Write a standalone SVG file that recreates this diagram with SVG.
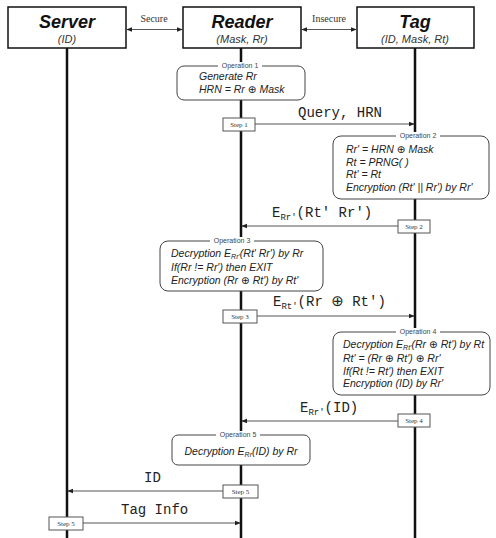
<svg xmlns="http://www.w3.org/2000/svg" width="496" height="538" viewBox="0 0 496 538">
<defs>
<marker id="ah" viewBox="0 0 8 8" refX="7" refY="4" markerWidth="6" markerHeight="6" orient="auto-start-reverse" markerUnits="userSpaceOnUse">
<path d="M0,1 L8,4 L0,7 Z" fill="#222"/>
</marker>
</defs>
<style>
.hdr{fill:#fff;stroke:#111;stroke-width:1.5}
.title{font-family:"Liberation Sans",Arial,sans-serif;font-weight:bold;font-style:italic;font-size:18px;text-anchor:middle;fill:#111}
.sub{font-family:"Liberation Sans",Arial,sans-serif;font-style:italic;font-size:11px;text-anchor:middle;fill:#333}
.life{stroke:#111;stroke-width:2.5}
.msg{stroke:#555;stroke-width:1;fill:none;marker-end:url(#ah)}
.bi{stroke:#555;stroke-width:1;fill:none;marker-end:url(#ah);marker-start:url(#ah)}
.chan{font-family:"Liberation Serif","Times New Roman",serif;font-size:10px;text-anchor:middle;fill:#333}
.op{fill:#fff;stroke:#444;stroke-width:1}
.opl{font-family:"Liberation Sans",Arial,sans-serif;font-size:7px;text-anchor:middle;fill:#444}
.opt{font-family:"Liberation Sans",Arial,sans-serif;font-style:italic;font-size:10.5px;fill:#222}
.x{font-family:"DejaVu Sans",sans-serif;font-style:normal}
.step{fill:#fff;stroke:#555;stroke-width:1}
.stl{font-family:"Liberation Serif","Times New Roman",serif;font-size:7px;text-anchor:middle;fill:#333}
.ml{font-family:"Liberation Mono","Courier New",monospace;font-size:14px;fill:#222}
</style>

<g id="lifelines">
<line class="life" x1="67" y1="48" x2="67" y2="538"/>
<line class="life" x1="241" y1="48" x2="241" y2="538"/>
<line class="life" x1="415" y1="48" x2="415" y2="538"/>
</g>

<g id="connectors">
<line class="bi" x1="127" y1="29.5" x2="182" y2="29.5"/>
<text class="chan" x="154" y="22">Secure</text>
<line class="bi" x1="302" y1="29.5" x2="356" y2="29.5"/>
<text class="chan" x="329" y="22">Insecure</text>

<line class="msg" x1="255" y1="124" x2="414" y2="124"/>
<text class="ml" x="298" y="117">Query, HRN</text>

<line class="msg" x1="398" y1="226" x2="242" y2="226"/>
<text class="ml" x="272" y="217">E<tspan font-size="9" dy="3">Rr'</tspan><tspan dy="-3">(Rt'  Rr')</tspan></text>

<line class="msg" x1="257" y1="316" x2="414" y2="316"/>
<text class="ml" x="273" y="306">E<tspan font-size="9" dy="3">Rt'</tspan><tspan dy="-3">(Rr <tspan class="x" font-size="15">⊕</tspan> Rt')</tspan></text>

<line class="msg" x1="398" y1="421" x2="242" y2="421"/>
<text class="ml" x="300" y="412">E<tspan font-size="9" dy="3">Rr'</tspan><tspan dy="-3">(ID)</tspan></text>

<line class="msg" x1="223" y1="491" x2="68" y2="491"/>
<text class="ml" x="144" y="482">ID</text>

<line class="msg" x1="83" y1="523" x2="240" y2="523"/>
<text class="ml" x="121" y="514">Tag Info</text>
</g>

<g id="server">
<rect class="hdr" x="8" y="7" width="118" height="41"/>
<text class="title" x="67" y="28">Server</text>
<text class="sub" x="67" y="43">(ID)</text>
</g>
<g id="reader">
<rect class="hdr" x="183" y="7" width="118" height="41"/>
<text class="title" x="242" y="28">Reader</text>
<text class="sub" x="242" y="43">(Mask, Rr)</text>
</g>
<g id="tag">
<rect class="hdr" x="357" y="7" width="117" height="41"/>
<text class="title" x="415" y="28">Tag</text>
<text class="sub" x="415" y="43">(ID, Mask, Rt)</text>
</g>

<g id="operation1">
<rect class="op" x="177" y="66" width="128" height="34" rx="7"/>
<rect x="218" y="62" width="44" height="8" fill="#fff"/>
<text class="opl" x="240" y="68">Operation 1</text>
<text class="opt" x="199" y="80">Generate Rr</text>
<text class="opt" x="199" y="93">HRN = Rr <tspan class="x">⊕</tspan> Mask</text>
</g>

<g id="step1">
<rect class="step" x="223" y="118" width="32" height="13"/>
<text class="stl" x="239" y="127">Step 1</text>
</g>

<g id="operation2">
<rect class="op" x="333" y="136" width="156" height="63" rx="8"/>
<rect x="396" y="132" width="44" height="8" fill="#fff"/>
<text class="opl" x="418" y="138">Operation 2</text>
<text class="opt" x="346" y="153">Rr' = HRN <tspan class="x">⊕</tspan> Mask</text>
<text class="opt" x="346" y="166">Rt = PRNG( )</text>
<text class="opt" x="346" y="178">Rt' = Rt</text>
<text class="opt" x="346" y="191">Encryption (Rt' || Rr') by Rr'</text>
</g>

<g id="step2">
<rect class="step" x="398" y="220" width="32" height="13"/>
<text class="stl" x="414" y="229">Step 2</text>
</g>

<g id="operation3">
<rect class="op" x="160" y="241" width="163" height="50" rx="8"/>
<rect x="210" y="237" width="44" height="8" fill="#fff"/>
<text class="opl" x="232" y="243">Operation 3</text>
<text class="opt" x="171" y="257">Decryption E<tspan font-size="7" dy="2">Rr'</tspan><tspan dy="-2">(Rt'  Rr') by Rr</tspan></text>
<text class="opt" x="171" y="271">If(Rr != Rr') then EXIT</text>
<text class="opt" x="171" y="284">Encryption (Rr <tspan class="x">⊕</tspan> Rt') by Rt'</text>
</g>

<g id="step3">
<rect class="step" x="223" y="310" width="34" height="13"/>
<text class="stl" x="240" y="319">Step 3</text>
</g>

<g id="operation4">
<rect class="op" x="333" y="332" width="157" height="63" rx="8"/>
<rect x="396" y="328" width="44" height="8" fill="#fff"/>
<text class="opl" x="418" y="334">Operation 4</text>
<text class="opt" x="343" y="348" font-size="10.2">Decryption E<tspan font-size="7" dy="2">Rt'</tspan><tspan dy="-2">(Rr <tspan class="x">⊕</tspan> Rt') by Rt</tspan></text>
<text class="opt" x="343" y="362">Rt' = (Rr <tspan class="x">⊕</tspan> Rt') <tspan class="x">⊕</tspan> Rr'</text>
<text class="opt" x="343" y="375">If(Rt != Rt') then EXIT</text>
<text class="opt" x="343" y="387">Encryption (ID) by Rr'</text>
</g>

<g id="step4">
<rect class="step" x="398" y="414" width="32" height="13"/>
<text class="stl" x="414" y="423">Step 4</text>
</g>

<g id="operation5">
<rect class="op" x="172" y="435" width="138" height="30" rx="6"/>
<rect x="216" y="431" width="44" height="8" fill="#fff"/>
<text class="opl" x="238" y="437">Operation 5</text>
<text class="opt" x="241" y="455" text-anchor="middle">Decryption E<tspan font-size="7" dy="2">Rr</tspan><tspan dy="-2">(ID) by Rr</tspan></text>
</g>

<g id="step5">
<rect class="step" x="223" y="485" width="35" height="13"/>
<text class="stl" x="240.5" y="494">Step 5</text>
</g>

<g id="step6">
<rect class="step" x="49" y="517" width="34" height="13"/>
<text class="stl" x="66" y="526">Step 5</text>
</g>
</svg>
